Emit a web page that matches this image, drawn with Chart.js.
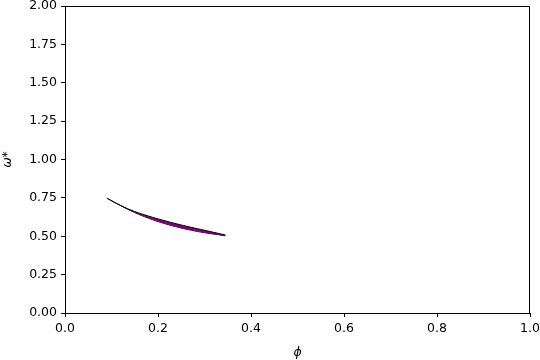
<!DOCTYPE html>
<html>
<head>
<meta charset="utf-8">
<script src="https://cdn.jsdelivr.net/npm/chart.js@4"></script>
<style>
  body { margin: 0; background: #fff; }
  #c { display: block; }
</style>
</head>
<body>
<canvas id="c" width="540" height="360"></canvas>
<script>
// φ values along the curve
const phiValues = [0.09, 0.12, 0.15, 0.18, 0.21, 0.24, 0.27, 0.30, 0.345];
// upper and lower edge of the ω* band
const omegaUpper = [0.748, 0.700, 0.661, 0.631, 0.605, 0.581, 0.559, 0.539, 0.508];
const omegaLower = [0.748, 0.699, 0.654, 0.617, 0.586, 0.561, 0.540, 0.523, 0.503];

const xTicks = [0, 0.2, 0.4, 0.6, 0.8, 1.0];
const yTicks = [0, 0.25, 0.5, 0.75, 1.0, 1.25, 1.5, 1.75, 2.0];

const toPoints = (ys) => phiValues.map((x, i) => ({ x: x, y: ys[i] }));

// 畫出外框 (上方和右方的邊線)
const frame = {
    id: 'frame',
    afterDraw(chart) {
        const a = chart.chartArea, ctx = chart.ctx;
        ctx.save();
        ctx.strokeStyle = '#000';
        ctx.lineWidth = 1;
        ctx.beginPath();
        ctx.moveTo(a.left, a.top + 0.5);
        ctx.lineTo(a.right - 0.5, a.top + 0.5);
        ctx.lineTo(a.right - 0.5, a.bottom);
        ctx.stroke();
        ctx.restore();
    }
};

Chart.defaults.font.family = 'DejaVu Sans';
Chart.defaults.font.size = 12.5;
Chart.defaults.color = '#000';

new Chart(document.getElementById('c'), {
    type: 'line',
    data: {
        datasets: [
            {
                data: toPoints(omegaUpper),
                borderColor: '#000',
                borderWidth: 1,
                backgroundColor: '#800080',
                fill: '+1',
                pointRadius: 0,
                tension: 0.4
            },
            {
                data: toPoints(omegaLower),
                borderColor: '#2a002a',
                borderWidth: 1,
                pointRadius: 0,
                fill: false,
                tension: 0.4
            }
        ]
    },
    options: {
        responsive: false,
        animation: false,
        layout: { padding: { top: 6, right: 10, left: 0, bottom: 0 } },
        plugins: { legend: { display: false }, tooltip: { enabled: false } },
        scales: {
            x: {
                type: 'linear',
                min: 0, max: 1,
                afterFit(s) { s.height = 47; s.paddingLeft = 0; s.paddingRight = 0; },
                afterBuildTicks(s) { s.ticks = xTicks.map(v => ({ value: v })); },
                ticks: { callback: v => v.toFixed(1), padding: 4, maxRotation: 0 },
                grid: { drawOnChartArea: false, drawTicks: true, tickLength: 4, color: '#000' },
                border: { color: '#000' },
                title: { display: true, text: 'ϕ', font: { size: 12.5, style: 'italic' }, padding: { top: 3, bottom: 0 } }
            },
            y: {
                type: 'linear',
                min: 0, max: 2,
                afterFit(s) { s.width = 65; s.paddingTop = 0; s.paddingBottom = 0; },
                afterBuildTicks(s) { s.ticks = yTicks.map(v => ({ value: v })); },
                ticks: { callback: v => v.toFixed(2), padding: 4 },
                grid: { drawOnChartArea: false, drawTicks: true, tickLength: 4, color: '#000' },
                border: { color: '#000' },
                title: { display: true, text: 'ω*', font: { size: 12.5, style: 'italic' }, padding: { top: 0, bottom: 2 } }
            }
        }
    },
    plugins: [frame]
});
</script>
</body>
</html>
